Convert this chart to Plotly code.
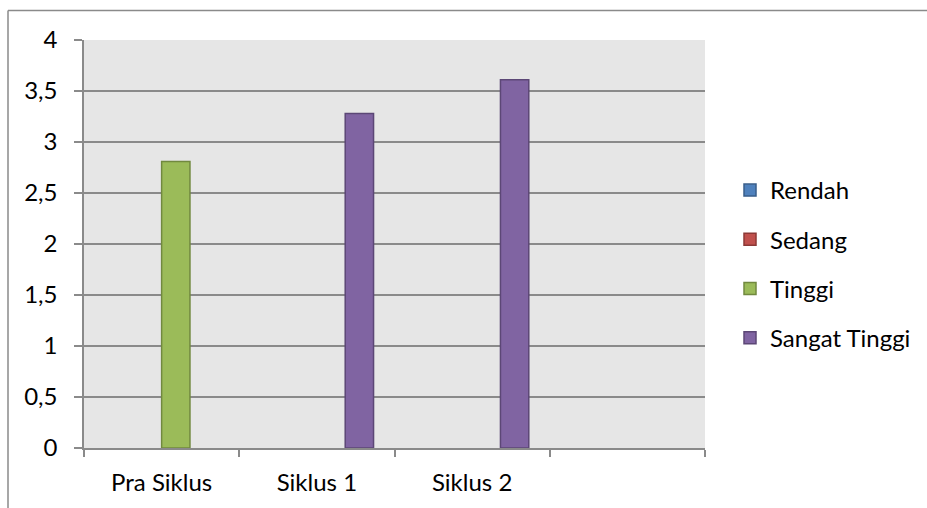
import plotly.graph_objects as go

categories = ["Pra Siklus", "Siklus 1", "Siklus 2", " "]
series_names = ["Rendah", "Sedang", "Tinggi", "Sangat Tinggi"]
rendah = [None, None, None, None]
sedang = [None, None, None, None]
tinggi = [2.81, None, None, None]
sangat_tinggi = [None, 3.28, 3.61, None]
y_ticks = [0, 0.5, 1, 1.5, 2, 2.5, 3, 3.5, 4]

fills = ["#4F81BD", "#C0504D", "#9BBB59", "#8064A2"]
edges = ["#385D8A", "#8C3836", "#71893F", "#5C4776"]

FONT = "Lato, Open Sans, sans-serif"
FS = 24
W, H = 927, 508
L, R, T, B = 84, 222, 40, 60
pw, ph = W - L - R, H - T - B


def px_x(v):
    return (v - L) / pw


def px_y(v):
    return (T + ph - v) / ph


fig = go.Figure()
for i, (name, vals) in enumerate(zip(series_names, [rendah, sedang, tinggi, sangat_tinggi])):
    fig.add_trace(go.Bar(
        x=categories, y=vals, name=name,
        marker=dict(color=fills[i], line=dict(color=edges[i], width=1.5)),
        legendgroup=name,
    ))

frame = dict(color="#8A8A8A", width=1.5)
fig.add_shape(type="line", xref="paper", yref="paper",
              x0=px_x(8), x1=px_x(W + 20), y0=px_y(10.5), y1=px_y(10.5), line=frame)
fig.add_shape(type="line", xref="paper", yref="paper",
              x0=px_x(8), x1=px_x(8), y0=px_y(10.5), y1=px_y(H + 20), line=frame)

fig.update_layout(
    width=W, height=H,
    margin=dict(l=L, r=R, t=T, b=B, pad=0, autoexpand=False),
    paper_bgcolor="white", plot_bgcolor="#E6E6E6",
    separators=",.",
    font=dict(family=FONT, size=FS, color="black"),
    barmode="group", bargap=0.27, bargroupgap=0,
    showlegend=True,
    legend=dict(x=px_x(730), y=px_y(264), xanchor="left", yanchor="middle",
                font=dict(size=FS), tracegroupgap=15, itemwidth=30,
                bgcolor="rgba(0,0,0,0)"),
    xaxis=dict(type="category", categoryorder="array", categoryarray=categories,
               range=[-0.5, 3.5], tickson="boundaries", ticks="outside", ticklen=7,
               tickcolor="#8A8A8A", tickwidth=1.5, showline=True, linecolor="#8A8A8A",
               linewidth=1.5, showgrid=False, tickfont=dict(size=FS), fixedrange=True,
               ticklabelstandoff=12, automargin=False),
    yaxis=dict(range=[0, 4], tickvals=y_ticks, ticks="outside", ticklen=8,
               tickcolor="#8A8A8A", tickwidth=1.5, showline=True, linecolor="#8A8A8A",
               linewidth=1.5, showgrid=True, gridcolor="#8A8A8A", gridwidth=1.5,
               zeroline=False, tickfont=dict(size=FS), ticklabelstandoff=12,
               automargin=False),
)

fig.write_html("out.html", config={"displayModeBar": False})
